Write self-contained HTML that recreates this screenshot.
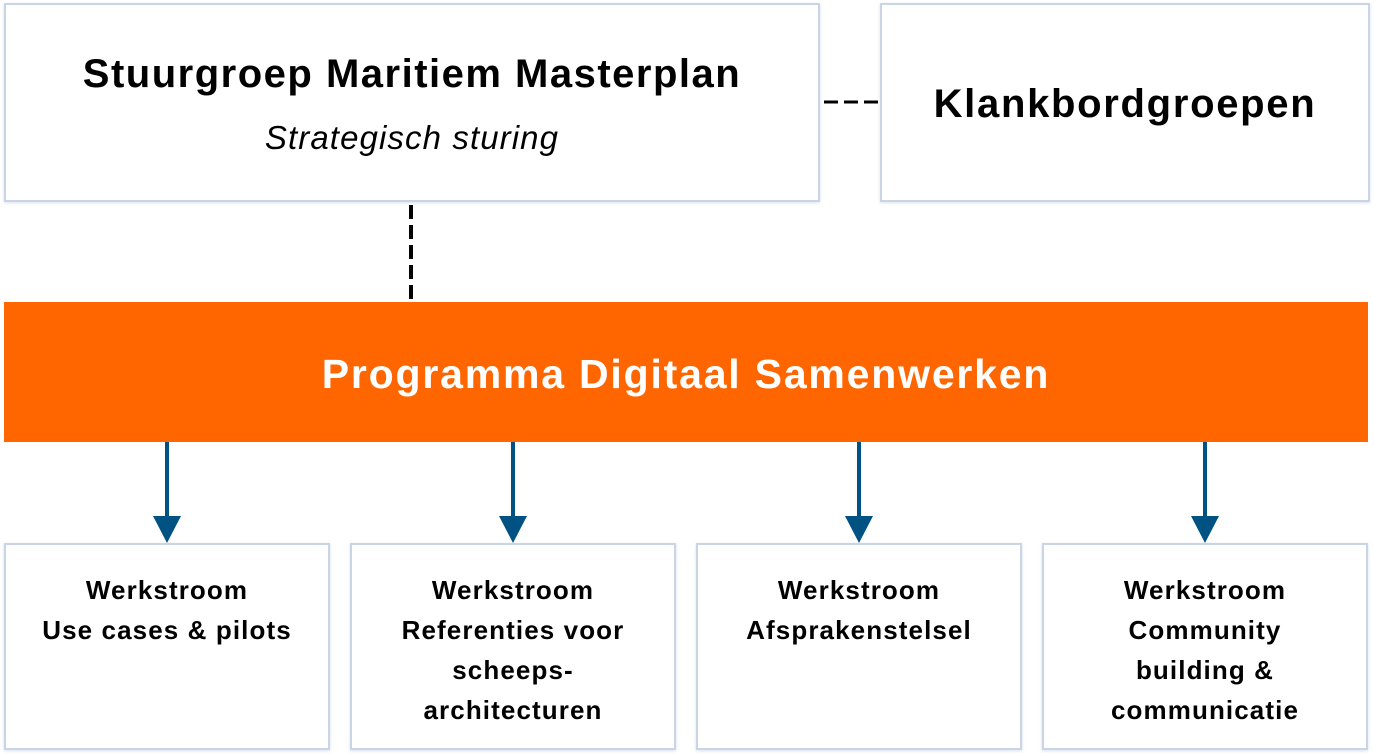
<!DOCTYPE html>
<html><head><meta charset="utf-8"><style>
*{margin:0;padding:0;box-sizing:border-box}
body{width:1374px;height:756px;background:#fff;position:relative;overflow:hidden;font-family:"Liberation Sans",sans-serif;color:#000}
.box{position:absolute;border:2px solid #c9d4e6;background:#fff;box-shadow:0 1px 3px rgba(150,165,200,.35)}
.t{position:absolute;left:0;right:0;text-align:center;white-space:nowrap}
.ws{position:absolute;left:0;right:0;top:25px;text-align:center;font-weight:bold;font-size:26px;line-height:40px;letter-spacing:1.1px}
.arr{position:absolute;top:442px;width:28px;height:101px}
</style></head><body>
<div class="box" style="left:4px;top:3px;width:816px;height:199px">
 <div class="t" style="top:47px;font-weight:bold;font-size:40px;letter-spacing:1.5px">Stuurgroep Maritiem Masterplan</div>
 <div class="t" style="top:114px;font-style:italic;font-size:33px;letter-spacing:1.1px">Strategisch sturing</div>
</div>
<div class="box" style="left:880px;top:3px;width:490px;height:199px">
 <div class="t" style="top:77px;font-weight:bold;font-size:40px;letter-spacing:1.7px">Klankbordgroepen</div>
</div>
<svg style="position:absolute;left:0;top:0" width="1374" height="756">
 <line x1="824" y1="102" x2="880" y2="102" stroke="#000" stroke-width="3" stroke-dasharray="14,6"/>
 <line x1="411" y1="205" x2="411" y2="300" stroke="#000" stroke-width="4" stroke-dasharray="14,6"/>
</svg>
<div style="position:absolute;left:4px;top:302px;width:1364px;height:140px;background:#ff6600">
 <div class="t" style="top:49px;color:#fff;font-weight:bold;font-size:41px;letter-spacing:1.8px">Programma Digitaal Samenwerken</div>
</div>
<svg class="arr" style="left:153px" viewBox="0 0 28 101"><rect x="12" y="0" width="4" height="75" fill="#005283"/><polygon points="0,74 28,74 14,101" fill="#005283"/></svg>
<svg class="arr" style="left:499px" viewBox="0 0 28 101"><rect x="12" y="0" width="4" height="75" fill="#005283"/><polygon points="0,74 28,74 14,101" fill="#005283"/></svg>
<svg class="arr" style="left:845px" viewBox="0 0 28 101"><rect x="12" y="0" width="4" height="75" fill="#005283"/><polygon points="0,74 28,74 14,101" fill="#005283"/></svg>
<svg class="arr" style="left:1191px" viewBox="0 0 28 101"><rect x="12" y="0" width="4" height="75" fill="#005283"/><polygon points="0,74 28,74 14,101" fill="#005283"/></svg>
<div class="box" style="left:4px;top:543px;width:326px;height:207px"><div class="ws">Werkstroom<br>Use cases &amp; pilots</div></div>
<div class="box" style="left:350px;top:543px;width:326px;height:207px"><div class="ws">Werkstroom<br>Referenties voor<br>scheeps-<br>architecturen</div></div>
<div class="box" style="left:696px;top:543px;width:326px;height:207px"><div class="ws">Werkstroom<br>Afsprakenstelsel</div></div>
<div class="box" style="left:1042px;top:543px;width:326px;height:207px"><div class="ws">Werkstroom<br>Community<br>building &amp;<br>communicatie</div></div>
</body></html>
